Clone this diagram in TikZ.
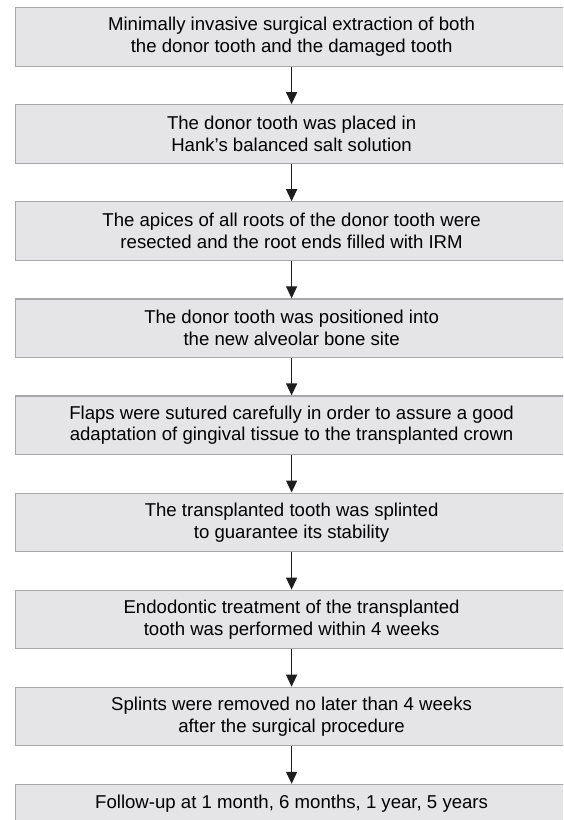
\documentclass[tikz,border=0pt]{standalone}
\usepackage{fontspec}
\setmainfont{Liberation Sans}
\usetikzlibrary{arrows.meta}
\definecolor{boxline}{HTML}{A8A8A8}
\definecolor{boxfill}{HTML}{E5E5E7}
\definecolor{arrowc}{HTML}{1E1E1E}
\begin{document}
\begin{tikzpicture}[x=1pt,y=1pt,
  box/.style={draw=boxline, fill=boxfill, line width=1.2pt, minimum width=552pt,
    minimum height=58.5pt, align=center, font=\fontsize{18.6}{21.7}\selectfont,
    anchor=north west, inner sep=0pt},
  arr/.style={-{Triangle[length=12pt,width=11pt]}, line width=1.3pt, draw=arrowc}]
\useasboundingbox (0,0) rectangle (563,-820);
\clip (0,0) rectangle (563,-820);
\node[box] (b1) at (15,-7) {Minimally invasive surgical extraction of both\\the donor tooth and the damaged tooth};
\node[box] (b2) at (15,-104.1) {The donor tooth was placed in\\Hank’s balanced salt solution};
\node[box] (b3) at (15,-201.2) {The apices of all roots of the donor tooth were\\resected and the root ends filled with IRM};
\node[box] (b4) at (15,-298.3) {The donor tooth was positioned into\\the new alveolar bone site};
\node[box] (b5) at (15,-395.4) {Flaps were sutured carefully in order to assure a good\\adaptation of gingival tissue to the transplanted crown};
\node[box] (b6) at (15,-492.5) {The transplanted tooth was splinted\\to guarantee its stability};
\node[box] (b7) at (15,-589.6) {Endodontic treatment of the transplanted\\tooth was performed within 4 weeks};
\node[box] (b8) at (15,-686.7) {Splints were removed no later than 4 weeks\\after the surgical procedure};
\node[box, minimum height=38pt] (b9) at (15,-783.8) {Follow-up at 1 month, 6 months, 1 year, 5 years};
\foreach \a/\b in {b1/b2,b2/b3,b3/b4,b4/b5,b5/b6,b6/b7,b7/b8,b8/b9}
  \draw[arr] (\a.south) -- (\b.north);
\end{tikzpicture}
\end{document}
